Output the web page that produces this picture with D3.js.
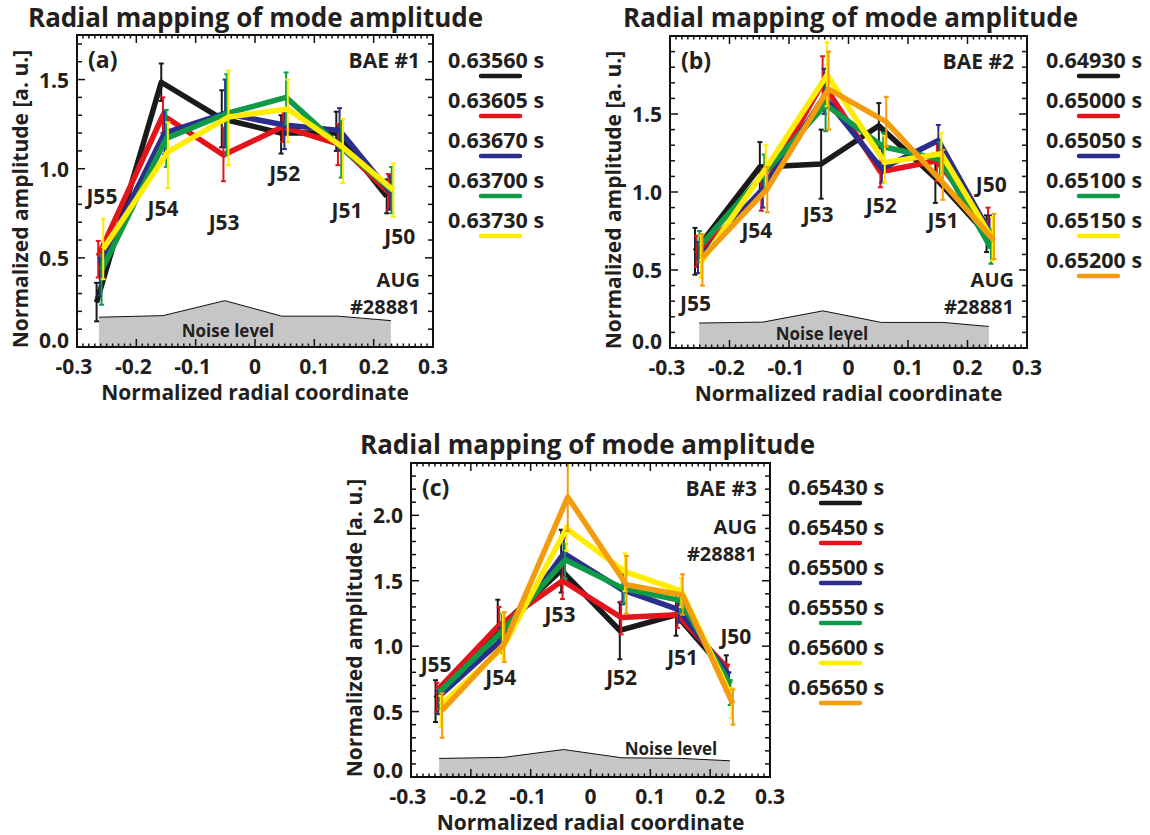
<!DOCTYPE html>
<html>
<head>
<meta charset="utf-8">
<script src="https://cdn.jsdelivr.net/npm/d3@7"></script>
<style>
  body { margin: 0; background: #fff; }
  svg text { font-family: "Open Sans", "Noto Sans", sans-serif; font-weight: 700; fill: #231f20; }
</style>
</head>
<body>
<div id="chart"></div>
<script>
// ---------- data ----------
const colors = ["#1a1a1a", "#e3141b", "#2b2e8c", "#0f9a48", "#ffec00", "#f39c0e"];
const channels = ["J55", "J54", "J53", "J52", "J51", "J50"];

// panel (a) BAE #1
const timesA = ["0.63560 s", "0.63605 s", "0.63670 s", "0.63700 s", "0.63730 s"];
const xA = [-0.267, -0.158, -0.056, 0.044, 0.137, 0.222];
const ampA = [
  [0.25, 1.485, 1.28, 1.20, 1.20, 0.845],
  [0.51, 1.30, 1.077, 1.235, 1.14, 0.87],
  [0.47, 1.20, 1.31, 1.245, 1.215, 0.87],
  [0.43, 1.17, 1.31, 1.40, 1.12, 0.88],
  [0.55, 1.095, 1.29, 1.335, 1.12, 0.88]
];
const errHiA = [
  [0.36, 1.59, 1.44, 1.30, 1.32, 0.94],
  [0.595, 1.40, 1.23, 1.33, 1.25, 0.97],
  [0.50, 1.32, 1.50, 1.34, 1.34, 0.96],
  [0.52, 1.33, 1.53, 1.54, 1.27, 1.01],
  [0.72, 1.26, 1.55, 1.50, 1.28, 1.03]
];
const errLoA = [
  [0.144, 1.38, 1.12, 1.085, 1.10, 0.75],
  [0.39, 1.20, 0.93, 1.15, 1.02, 0.77],
  [0.29, 1.08, 1.12, 1.11, 1.10, 0.77],
  [0.237, 1.01, 1.08, 1.25, 0.95, 0.75],
  [0.38, 0.89, 1.02, 1.15, 0.92, 0.73]
];
const noiseXA = [-0.263, -0.155, -0.051, 0.045, 0.140, 0.229];
const noiseA = [0.167, 0.176, 0.26, 0.173, 0.173, 0.148];
const labelXA = [-0.258, -0.155, -0.052, 0.050, 0.155, 0.244];
const labelYA = [0.845, 0.78, 0.70, 0.975, 0.77, 0.62];

// panel (b) BAE #2
const timesB = ["0.64930 s", "0.65000 s", "0.65050 s", "0.65100 s", "0.65150 s", "0.65200 s"];
const xB = [-0.258, -0.149, -0.046, 0.051, 0.146, 0.232];
const ampB = [
  [0.62, 1.16, 1.18, 1.425, 1.09, 0.73],
  [0.60, 1.00, 1.70, 1.13, 1.20, 0.78],
  [0.57, 1.02, 1.61, 1.15, 1.33, 0.745],
  [0.65, 1.12, 1.56, 1.29, 1.21, 0.64],
  [0.55, 1.15, 1.75, 1.19, 1.245, 0.70],
  [0.58, 1.02, 1.66, 1.45, 1.06, 0.69]
];
const errHiB = [
  [0.77, 1.32, 1.40, 1.57, 1.25, 0.85],
  [0.72, 1.12, 1.87, 1.25, 1.33, 0.90],
  [0.68, 1.15, 1.79, 1.28, 1.43, 0.85],
  [0.75, 1.24, 1.70, 1.38, 1.32, 0.76],
  [0.72, 1.30, 1.96, 1.36, 1.38, 0.84],
  [0.73, 1.16, 1.90, 1.61, 1.27, 0.86]
];
const errLoB = [
  [0.47, 1.00, 0.957, 1.28, 0.93, 0.615],
  [0.52, 0.88, 1.52, 1.03, 1.07, 0.68],
  [0.48, 0.90, 1.50, 1.06, 1.22, 0.65],
  [0.55, 1.00, 1.39, 1.18, 1.10, 0.54],
  [0.45, 1.00, 1.55, 1.06, 1.10, 0.56],
  [0.40, 0.87, 1.40, 1.29, 0.95, 0.57]
];
const noiseXB = [-0.251, -0.144, -0.043, 0.055, 0.159, 0.236];
const noiseB = [0.16, 0.166, 0.238, 0.164, 0.164, 0.138];
const labelXB = [-0.257, -0.154, -0.051, 0.055, 0.159, 0.240];
const labelYB = [0.287, 0.755, 0.86, 0.915, 0.82, 1.053];

// panel (c) BAE #3
const timesC = ["0.65430 s", "0.65450 s", "0.65500 s", "0.65550 s", "0.65600 s", "0.65650 s"];
const xC = [-0.259, -0.155, -0.049, 0.049, 0.143, 0.227];
const ampC = [
  [0.60, 1.13, 1.58, 1.12, 1.24, 0.80],
  [0.66, 1.16, 1.50, 1.22, 1.24, 0.83],
  [0.61, 1.04, 1.71, 1.43, 1.28, 0.78],
  [0.65, 1.11, 1.66, 1.44, 1.35, 0.71],
  [0.55, 0.99, 1.90, 1.57, 1.42, 0.61],
  [0.51, 1.02, 2.14, 1.47, 1.39, 0.56]
];
const errHiC = [
  [0.74, 1.355, 1.89, 1.335, 1.40, 0.93],
  [0.72, 1.30, 1.66, 1.34, 1.34, 0.86],
  [0.66, 1.14, 1.83, 1.54, 1.36, 0.80],
  [0.67, 1.25, 1.78, 1.55, 1.43, 0.74],
  [0.62, 1.25, 1.92, 1.71, 1.52, 0.68],
  [0.64, 1.26, 2.40, 1.69, 1.55, 0.67]
];
const errLoC = [
  [0.42, 0.98, 1.41, 0.90, 1.08, 0.66],
  [0.50, 1.00, 1.36, 1.09, 1.14, 0.68],
  [0.48, 0.95, 1.57, 1.32, 1.18, 0.64],
  [0.52, 0.98, 1.52, 1.33, 1.25, 0.55],
  [0.38, 0.90, 1.73, 1.42, 1.30, 0.45],
  [0.30, 0.88, 1.88, 1.25, 1.24, 0.40]
];
const noiseXC = [-0.253, -0.145, -0.045, 0.052, 0.152, 0.233];
const noiseC = [0.142, 0.15, 0.21, 0.147, 0.142, 0.124];
const labelXC = [-0.258, -0.150, -0.051, 0.052, 0.154, 0.243];
const labelYC = [0.865, 0.764, 1.246, 0.764, 0.916, 1.081];

const xTicks = [-0.3, -0.2, -0.1, 0, 0.1, 0.2, 0.3];
const xTickLabels = ["-0.3", "-0.2", "-0.1", "0", "0.1", "0.2", "0.3"];
const yTicksAB = [0.0, 0.5, 1.0, 1.5];
const yTicksC = [0.0, 0.5, 1.0, 1.5, 2.0];

// ---------- drawing ----------
const svg = d3.select("#chart").append("svg")
  .attr("width", 1150)
  .attr("height", 835);

function drawPanel(p) {
  let g = svg.append("g");

  let x = d3.scaleLinear().domain([-0.3, 0.3]).range([p.left, p.right]);
  let y = d3.scaleLinear().domain([0, p.ymax]).range([p.bottom, p.top]);

  // title
  g.append("text")
    .attr("x", p.titleX)
    .attr("y", p.titleY)
    .attr("font-size", 26)
    .text("Radial mapping of mode amplitude");

  // noise level area
  let noisePts = p.noiseX.map((d, i) => [d, p.noise[i]]);
  g.append("path")
    .datum(noisePts)
    .attr("fill", "#c6c6c6")
    .attr("d", d3.area().x(d => x(d[0])).y0(y(0)).y1(d => y(d[1])));
  g.append("path")
    .datum(noisePts)
    .attr("fill", "none")
    .attr("stroke", "#111")
    .attr("stroke-width", 1)
    .attr("d", d3.line().x(d => x(d[0])).y(d => y(d[1])));
  g.append("text")
    .attr("x", p.noiseTextX)
    .attr("y", p.noiseTextY)
    .attr("text-anchor", "middle")
    .attr("font-size", 17)
    .text("Noise level");

  // series: error bars + lines
  let line = d3.line().x(d => x(d[0])).y(d => y(d[1]));
  p.amp.forEach((vals, s) => {
    let pts = vals.map((v, i) => [p.xs[i] + s * p.dx, v, p.lo[s][i], p.hi[s][i]]);
    let eg = g.append("g").attr("stroke", colors[s]).attr("stroke-width", 2);
    eg.selectAll("line.bar")
      .data(pts)
      .join("line")
      .attr("x1", d => x(d[0])).attr("x2", d => x(d[0]))
      .attr("y1", d => y(d[2])).attr("y2", d => y(d[3]));
    eg.selectAll("line.cap")
      .data(pts.flatMap(d => [[d[0], d[2]], [d[0], d[3]]]))
      .join("line")
      .attr("x1", d => x(d[0]) - 2.5).attr("x2", d => x(d[0]) + 2.5)
      .attr("y1", d => y(d[1])).attr("y2", d => y(d[1]));
    g.append("path")
      .datum(pts)
      .attr("fill", "none")
      .attr("stroke", colors[s])
      .attr("stroke-width", 5.5)
      .attr("stroke-linejoin", "round")
      .attr("d", line);
  });

  // channel labels
  g.selectAll("text.chan")
    .data(channels)
    .join("text")
    .attr("x", (d, i) => x(p.labelX[i]))
    .attr("y", (d, i) => y(p.labelY[i]))
    .attr("text-anchor", "middle")
    .attr("dominant-baseline", "central")
    .attr("font-size", 21)
    .text(d => d);

  // frame + ticks
  g.append("rect")
    .attr("x", p.left).attr("y", p.top)
    .attr("width", p.right - p.left).attr("height", p.bottom - p.top)
    .attr("fill", "none").attr("stroke", "#111").attr("stroke-width", 2);

  let xMinor = d3.range(-30, 31).map(d => d / 100);
  let yMinor = d3.range(0, Math.round(p.ymax * 10) + 1).map(d => d / 10);
  let tk = g.append("g").attr("stroke", "#111").attr("stroke-width", 1.5);
  xMinor.forEach(v => {
    let major = Math.abs(Math.round(v * 100) % 10) === 0;
    let len = major ? 8 : 3.5;
    tk.append("line").attr("x1", x(v)).attr("x2", x(v)).attr("y1", p.bottom).attr("y2", p.bottom - len);
    tk.append("line").attr("x1", x(v)).attr("x2", x(v)).attr("y1", p.top).attr("y2", p.top + len);
  });
  yMinor.forEach(v => {
    let major = Math.round(v * 10) % 5 === 0;
    let len = major ? 8 : 5;
    tk.append("line").attr("x1", p.left).attr("x2", p.left + len).attr("y1", y(v)).attr("y2", y(v));
    tk.append("line").attr("x1", p.right).attr("x2", p.right - len).attr("y1", y(v)).attr("y2", y(v));
  });

  // tick labels
  g.selectAll("text.xt")
    .data(xTicks)
    .join("text")
    .attr("x", d => x(d) - (d < 0 ? 3 : 0))
    .attr("y", p.bottom + 27)
    .attr("text-anchor", "middle")
    .attr("font-size", 21)
    .text((d, i) => xTickLabels[i]);
  g.selectAll("text.yt")
    .data(p.yTicks)
    .join("text")
    .attr("x", p.left - 8)
    .attr("y", d => y(d) - (d === 0 ? 7 : 0))
    .attr("text-anchor", "end")
    .attr("dominant-baseline", "central")
    .attr("font-size", 21)
    .text(d => d3.format(".1f")(d));

  // axis titles
  g.append("text")
    .attr("x", (p.left + p.right) / 2)
    .attr("y", p.bottom + 53)
    .attr("text-anchor", "middle")
    .attr("font-size", 21)
    .text("Normalized radial coordinate");
  g.append("text")
    .attr("transform", `translate(${p.left - 49},${(p.top + p.bottom) / 2 + 8}) rotate(-90)`)
    .attr("text-anchor", "middle")
    .attr("font-size", 21)
    .text("Normalized amplitude [a. u.]");

  // corner labels
  g.append("text").attr("x", p.left + 11).attr("y", p.top + 33).attr("font-size", 23).text(p.tag);
  g.append("text").attr("x", p.right - 13).attr("y", p.top + 33).attr("text-anchor", "end").attr("font-size", 21).text(p.bae);
  g.append("text").attr("x", p.right - 13).attr("y", p.augY - 1).attr("text-anchor", "end").attr("font-size", 20).text("AUG");
  g.append("text").attr("x", p.right - 13).attr("y", p.augY + 26).attr("text-anchor", "end").attr("font-size", 20).text("#28881");

  // legend
  let lg = g.append("g");
  p.times.forEach((t, i) => {
    let by = p.legY + i * 40;
    lg.append("text").attr("x", p.legX).attr("y", by).attr("font-size", 21.5).text(t);
    lg.append("line")
      .attr("x1", p.legX + 33).attr("x2", p.legX + 72)
      .attr("y1", by + 8).attr("y2", by + 8)
      .attr("stroke", colors[i]).attr("stroke-width", 4.5).attr("stroke-linecap", "round");
  });
}

drawPanel({
  left: 77, right: 433, top: 35, bottom: 347, ymax: 1.75, yTicks: yTicksAB,
  titleX: 28, titleY: 27,
  xs: xA, dx: 0.0028, amp: ampA, lo: errLoA, hi: errHiA,
  noiseX: noiseXA, noise: noiseA, noiseTextX: 228, noiseTextY: 337,
  labelX: labelXA, labelY: labelYA,
  tag: "(a)", bae: "BAE #1", augY: 288,
  times: timesA, legX: 448, legY: 68
});

drawPanel({
  left: 670, right: 1027, top: 36, bottom: 348, ymax: 2.0, yTicks: yTicksAB,
  titleX: 623, titleY: 27,
  xs: xB, dx: 0.0025, amp: ampB, lo: errLoB, hi: errHiB,
  noiseX: noiseXB, noise: noiseB, noiseTextX: 822, noiseTextY: 340,
  labelX: labelXB, labelY: labelYB,
  tag: "(b)", bae: "BAE #2", augY: 288,
  times: timesB, legX: 1046, legY: 68
});

drawPanel({
  left: 411, right: 770, top: 463, bottom: 777, ymax: 2.4, yTicks: yTicksC,
  titleX: 360, titleY: 454,
  xs: xC, dx: 0.0022, amp: ampC, lo: errLoC, hi: errHiC,
  noiseX: noiseXC, noise: noiseC, noiseTextX: 671, noiseTextY: 755,
  labelX: labelXC, labelY: labelYC,
  tag: "(c)", bae: "BAE #3", augY: 535,
  times: timesC, legX: 788, legY: 495
});
</script>
</body>
</html>
